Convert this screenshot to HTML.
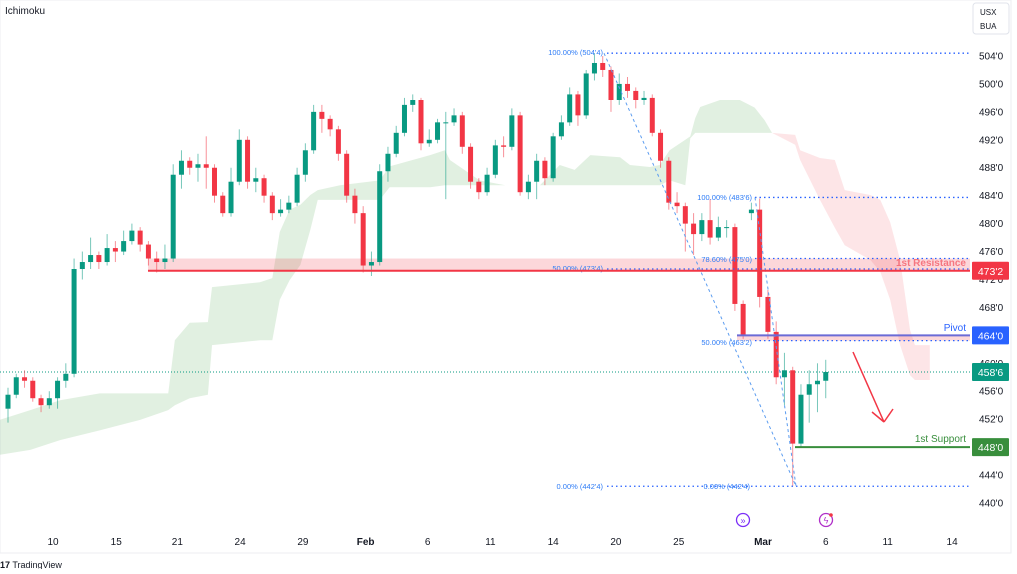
<!DOCTYPE html>
<html><head><meta charset="utf-8"><style>
html,body{margin:0;padding:0;background:#fff;}
body{width:1017px;height:569px;overflow:hidden;font-family:"Liberation Sans",sans-serif;}
svg text{font-family:"Liberation Sans",sans-serif;}
</style></head><body>
<svg id="chart" width="1017" height="569" viewBox="0 0 1017 569" xmlns="http://www.w3.org/2000/svg">
<rect x="0" y="0" width="1011" height="553" fill="#fff" stroke="#eceef2"/>
<g id="cloud"></g>
<g id="bands"></g>
<g id="candles"></g>
<g id="overlay"></g>
<g id="axis"></g>
<g id="xaxis"></g>
<text x="5" y="14" font-size="10" fill="#131722">Ichimoku</text>
<rect x="973" y="3" width="36" height="31" rx="3" fill="#fff" stroke="#e0e3eb"/>
<text x="980" y="15" font-size="8" fill="#131722">USX</text>
<text x="980" y="29" font-size="8" fill="#131722">BUA</text>
<text x="0" y="568" font-size="9" fill="#131722"><tspan font-weight="bold">17</tspan> TradingView</text>
</svg>
<script>
const opens=[453.5,455.5,458,457.5,455,454,455,457.5,458.5,473.5,474.5,475.5,474.5,476.5,476,477.5,479,477,475,474.5,475,487,489,488,488.5,488,484,481.5,486,492,486,486.5,484,481.5,482,483,487,490.5,496,495,493.5,490,484,481.5,474,474.5,487.5,490,493,497,497.7,491.5,492,494.5,494.5,495.5,491,486,484.5,487,491.2,491,495.5,484.5,486,489,486.5,492.5,494.5,498.5,495.5,501.5,503,502,497.7,500,499,497.7,498,493,489,483,482.5,480,478.5,480.5,478,479.5,479.5,468.5,481.5,482,469.5,464.5,458,459,448.5,455.5,457,457.5];
const closes=[455.5,458,457.5,455,454,455,457.5,458.5,473.5,474.5,475.5,474.5,476.5,476,477.5,479,477,475,474.5,475,487,489,488,488.5,488,484,481.5,486,492,486,486.5,484,481.5,482,483,487,490.5,496,495,493.5,490,484,481.5,474,474.5,487.5,490,493,497,497.7,491.5,492,494.5,494.5,495.5,491,486,484.5,487,491.2,491,495.5,484.5,486,489,486.5,492.5,494.5,498.5,495.5,501.5,503,502,497.7,500,499,497.7,498,493,489,483,482.5,480,478.5,480.5,478,479.5,479.5,468.5,464,482,469.5,464.5,458,459,448.5,455.5,457,457.5,458.75];
const highs=[456.5,458.5,459,458,455.5,456,458,460,475,476,478,476,478.5,477.5,479,480,479.5,477.5,476,477,488.5,490.5,489.5,490,492.5,488.5,484.5,488,493.5,492.5,488,487,484.5,483.5,484,488,491.5,497,497,495.5,494,490.5,485,482.5,476,488.5,491,494,498,498.5,498,493.5,495,496,496.5,496,491.5,486.5,488,492,492.5,496.5,496,487,490,489.5,493,495.5,499.5,499,502,504.4,504,502.5,501.5,501,499.5,499,498.5,493.5,489.5,484.5,483,481.5,481.5,483.5,481,480.5,480,469,483,483.6,470.5,466,461.5,459.5,457,459,460,460.5];
const lows=[451.5,455,456.5,454.5,453,453.5,453.5,456.5,458,472,473.5,473.5,474,474.5,475.5,477,476,474,473,473.5,474.5,485,487,486,485,483,481,481,485.5,485,484.5,483,480.5,481,481.5,482.5,486,490,493,492.5,489,483,480,473,472.5,474,486,489.5,492.5,496,490.5,491,491.5,483.5,494,490,485,483.5,484,486.5,489.5,490.5,484,483.5,483.5,485.5,486,492,494,494,495,500.5,501,496,497,498,496.5,497,492.5,488,482,481.5,476,475.5,477.5,477,477.5,478,467.5,463.5,480.5,468,463.5,457,454,442.4,448,451.5,453,455];
// ichimoku cloud (bar-index, span values)
const greenIdx=[-1,2.7,6.3,11.1,16,19.4,20.2,22,24.2,24.7,30.5,32,32.9,34.1,35.4,36.6,37.5,40.2,45,46.2,51.1,52.9,53.5,57.1,60.2,64.4,66.8,68.6,70.5,74.1,75.3,77.7,78.9,80.1,82,82.6,83.2,83.8,86.2,88.6,90.4,91.6,92.5];
const greenTop=[451.9,453.3,454.7,455.7,455.7,455.7,463.3,465.8,465.9,470.9,471.6,472.2,478.8,482,482.7,484.1,484.8,485.5,486.2,488.2,489.8,490.5,489.1,486.2,485.5,485.5,488.4,487.7,489.8,489.5,488.4,488.1,488.4,490.5,492,492.5,495.1,496.7,497.7,497.7,496.6,494.8,493];
const greenBot=[446.9,447.6,449,450.4,451.9,453.3,454,455,455.5,462.6,463.3,463.3,469.1,471.9,474.1,479.1,483.4,483.4,483.4,485.2,485.2,485.5,485.5,485.5,485.5,485.5,485.5,485.5,485.5,485.5,485.5,485.5,485.5,486.2,485.5,492.2,493,493,493,493,493,493,493];
const redIdx=[92.5,95.3,95.9,98.3,100.1,101.3,104.4,105.6,106.8,108,109.2,109.8,111.6];
const redTop=[493,492.7,490.5,489.4,489.1,484.8,484.1,483.4,480.2,474.8,464.8,462.6,462.6];
const redBot=[493,491.3,489.1,483.4,479.4,476.9,474.8,473.1,469.1,462.6,458.3,457.6,457.6];
const priceTicks=[504,500,496,492,488,484,480,476,472,468,464,460,456,452,448,444,440];
const tickLabels=["10","15","21","24","29","Feb","6","11","14","20","25","Mar","6","11","14"];
const tickIdx=[5.45,13.1,20.5,28.1,35.7,43.3,50.8,58.4,66,73.6,81.2,91.4,99,106.5,114.3];
const boldTicks=["Feb","Mar"];
const resistance=473.25, pivot=464, support=448, lastPrice=458.75;

const NS="http://www.w3.org/2000/svg";
const X=i=>8+i*8.26;
const Y=p=>56+(504-p)*6.984;
function mk(tag,attrs,parent){const e=document.createElementNS(NS,tag);for(const k in attrs)e.setAttribute(k,attrs[k]);parent.appendChild(e);return e;}
const G=id=>document.getElementById(id);

// cloud
function area(idx,top,bot,fill,name){
  let pts=idx.map((v,i)=>X(v)+","+Y(top[i]));
  for(let i=idx.length-1;i>=0;i--)pts.push(X(idx[i])+","+Y(bot[i]));
  const p=mk("polygon",{points:pts.join(" "),fill:fill},G("cloud"));
  
  
}
area(greenIdx,greenTop,greenBot,"rgba(67,160,71,0.16)","cloud-bullish");
area(redIdx,redTop,redBot,"rgba(242,54,69,0.13)","cloud-bearish");

// bands & lines
const b=G("bands");
let e;
e=mk("rect",{x:148,y:Y(475),width:822,height:Y(resistance)-Y(475),fill:"rgba(242,54,69,0.2)"},b);


e=mk("rect",{x:737,y:Y(pivot),width:233,height:Y(463.25)-Y(pivot),fill:"rgba(242,54,69,0.2)"},b);


e=mk("line",{x1:0,x2:970,y1:Y(lastPrice),y2:Y(lastPrice),stroke:"#089981","stroke-width":1,"stroke-dasharray":"1,2"},b);



// candles
const cg=G("candles");
closes.forEach((c,i)=>{
  const o=opens[i],up=c>=o,col=up?"#089981":"#f23645",x=X(i);
  const w=mk("line",{x1:x,x2:x,y1:Y(highs[i]),y2:Y(lows[i]),stroke:col,"stroke-opacity":0.55,"stroke-width":1},cg);
  
  
  const top=Y(Math.max(o,c)),h=Math.max(1,Math.abs(Y(o)-Y(c)));
  const r=mk("rect",{x:x-2.5,y:top,width:5,height:h,fill:col},cg);
  
  
});

// overlay annotations
const ov=G("overlay");
function line(x1,y1,x2,y2,col,w,dash,name){const l=mk("line",{x1,y1,x2,y2,stroke:col,"stroke-width":w},ov);if(dash)l.setAttribute("stroke-dasharray",dash);return l;}
function txt(x,y,s,col,size,anchor,name,weight){const t=mk("text",{x,y,fill:col,"font-size":size,"text-anchor":anchor||"start"},ov);if(weight)t.setAttribute("font-weight",weight);t.textContent=s;return t;}
const fb="#2962ff";
line(607,Y(504.4),970,Y(504.4),fb,1.3,"1.5,3","fib-100-line");
line(607,Y(473.5),970,Y(473.5),fb,1.3,"1.5,3","fib-50-line");
line(607,Y(442.4),970,Y(442.4),fb,1.3,"1.5,3","fib-0-line");
line(755,Y(483.75),970,Y(483.75),fb,1.3,"1.5,3","fib2-100-line");
line(755,Y(475),970,Y(475),fb,1.3,"1.5,3","fib2-786-line");
line(755,Y(463.25),970,Y(463.25),fb,1.3,"1.5,3","fib2-50-line");
line(604,Y(504.4),796,Y(442.4),"#5b9cf0",1,"3,3","fib-trend-line");
line(755,Y(483.75),796,Y(442.4),"#5b9cf0",1,"3,3","fib2-trend-line");
txt(603,55,"100.00% (504'4)","#2e7cf6",7.5,"end","fib-100-label");
txt(603,271,"50.00% (473'4)","#2e7cf6",7.5,"end","fib-50-label");
txt(603,489,"0.00% (442'4)","#2e7cf6",7.5,"end","fib-0-label");
txt(752,200,"100.00% (483'6)","#2e7cf6",7.5,"end","fib2-100-label");
txt(752,262,"78.60% (475'0)","#2e7cf6",7.5,"end","fib2-786-label");
txt(752,345,"50.00% (463'2)","#2e7cf6",7.5,"end","fib2-50-label");
txt(750,489,"0.00% (442'4)","#2e7cf6",7.5,"end","fib2-0-label");
line(148,Y(resistance),970,Y(resistance),"#f23645",2,null,"resistance-line");
line(737,Y(pivot),970,Y(pivot),"#6b6bd6",2,null,"pivot-line");
line(795,Y(support),970,Y(support),"#388e3c",2,null,"support-line");
txt(966,266,"1st Resistance","#f23645",10,"end","resistance-label","bold").setAttribute("fill-opacity","0.6");
txt(966,331,"Pivot","#2962ff",10,"end","pivot-label");
txt(966,442,"1st Support","#388e3c",10,"end","support-label");
line(853,352,884,422,"#f23645",1.5,null,"forecast-arrow");
line(884,422,872,412,"#f23645",1.5,null,"forecast-arrow-head-left");
line(884,422,893,409,"#f23645",1.5,null,"forecast-arrow-head-right");
// event icons
let c1=mk("circle",{cx:743,cy:520,r:6.5,fill:"none",stroke:"#7b2ff7","stroke-width":1.3},ov);


txt(743,523.5,"»","#7b2ff7",9,"middle","event-icon-glyph");
let c2=mk("circle",{cx:826,cy:520,r:6.5,fill:"none",stroke:"#b02fc9","stroke-width":1.3},ov);


txt(826,523.5,"ϟ","#b02fc9",9,"middle","event-icon-glyph2");
let d=mk("circle",{cx:831,cy:515,r:1.8,fill:"#f23645"},ov);



// price axis
const ax=G("axis");
priceTicks.forEach(p=>{
  const t=mk("text",{x:979,y:Y(p)+3.5,"font-size":10,fill:"#131722"},ax);
  t.textContent=p+"'0";
  
  
});
function badge(p,col,label,name){
  const r=mk("rect",{x:972,y:Y(p)-9,width:37,height:18,fill:col,rx:1},ax);
  
  
  const t=mk("text",{x:990.5,y:Y(p)+4,"font-size":10.5,fill:"#fff","text-anchor":"middle"},ax);
  t.textContent=label;
  
  
}
badge(resistance,"#f23645","473'2","resistance-badge");
badge(pivot,"#2962ff","464'0","pivot-badge");
badge(lastPrice,"#089981","458'6","last-price-badge");
badge(support,"#388e3c","448'0","support-badge");

// time axis
const xa=G("xaxis");
tickLabels.forEach((s,i)=>{
  const t=mk("text",{x:X(tickIdx[i]),y:545,"font-size":10,fill:"#131722","text-anchor":"middle"},xa);
  if(boldTicks.includes(s))t.setAttribute("font-weight","bold");
  t.textContent=s;
  
  
});
</script>
</body></html>
